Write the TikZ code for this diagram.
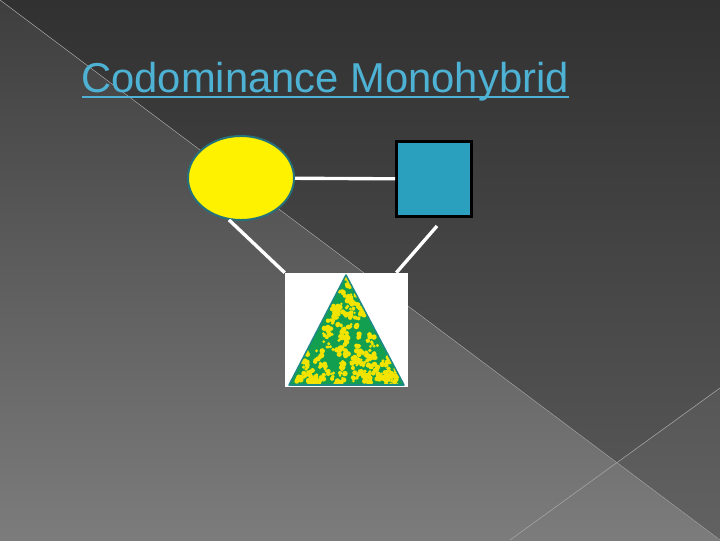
\documentclass[tikz,border=0pt]{standalone}
\usepackage{fontspec}
\setmainfont{Liberation Sans}
\usetikzlibrary{shapes.geometric,calc}

\definecolor{slidetop}{HTML}{3E3E3E}
\definecolor{slidebot}{HTML}{7C7C7C}
\definecolor{shadetop}{HTML}{313131}
\definecolor{shadebot}{HTML}{5A5A5A}
\definecolor{titleblue}{RGB}{78,178,212}
\definecolor{momline}{HTML}{24727C}
\definecolor{dadfill}{HTML}{2BA0BE}
\definecolor{leafgreen}{HTML}{12A050}
\definecolor{leafline}{HTML}{1E8A86}
\definecolor{speck}{HTML}{F2E400}

\tikzstyle{mom}=[ellipse,draw=momline,line width=1.4pt,fill=yellow,minimum width=2.65cm,minimum height=2.1cm,inner sep=0pt]
\tikzstyle{dad}=[rectangle,draw=black,line width=2.1pt,fill=dadfill,minimum size=1.875cm,inner sep=0pt]
\tikzstyle{kid}=[rectangle,fill=white,minimum width=3.075cm,minimum height=2.85cm,inner sep=0pt]
\tikzstyle{link}=[white,line width=2.4pt]
\tikzstyle{seam}=[gray!70,line width=0.4pt]
\tikzstyle{texto}=[text=titleblue,font=\fontsize{29.7}{34}\selectfont,inner sep=0pt]

\begin{document}
\begin{tikzpicture}[x=0.025cm,y=-0.025cm]
  \useasboundingbox (0,0) rectangle (720,540);

  % slide background
  \fill[top color=slidetop,bottom color=slidebot] (0,0) rectangle (720,540);
  \fill[top color=shadetop,bottom color=shadebot] (0,0) -- (720,0) -- (720,540) -- cycle;
  \fill[white,opacity=0.05] (720,388) -- (617,463) -- (720,540) -- cycle;
  \draw[seam] (0,0) -- (720,540);
  \draw[seam] (510,540) -- (720,388);

  \begin{scope}

    \node [texto,anchor=base west] (title) at (81,92) {Codominance Monohybrid};
    \draw [titleblue,line width=1.8pt] ($(title.base west)+(1,5)$) -- ($(title.base east)+(0,5)$);

    \node [mom] (mom) at (241,178) {};

    \node [dad] (dad) at (434,179) {}
    edge [link] (mom);

    \node [kid] (kid) at (346.5,330) {};
    \coordinate (dadgap) at (437,226);

    \draw [link] (mom.-106) -- (kid.north west);
    \draw [link] (dadgap) -- ($(kid.north east)+(-12,0)$);

    % speckled offspring
    \begin{scope}
      \clip (346,275) -- (404,385) -- (289,385) -- cycle;
      \fill [leafgreen] (346,275) -- (404,385) -- (289,385) -- cycle;
      \pgfmathsetseed{17}
      \foreach \i in {1,...,95}{
        \pgfmathsetmacro{\ra}{sqrt(rnd)}
        \pgfmathsetmacro{\rb}{rnd}
        \pgfmathsetmacro{\cx}{346+\ra*(\rb*115-57)}
        \pgfmathsetmacro{\cy}{275+\ra*110}
        \foreach \j in {1,...,5}{
          \pgfmathsetmacro{\dx}{7*rnd-3.5}
          \pgfmathsetmacro{\dy}{7*rnd-3.5}
          \pgfmathsetmacro{\rr}{1.3+1.5*rnd}
          \fill [speck] ({\cx+\dx},{\cy+\dy}) circle (\rr);
        }
      }
    \end{scope}
    \draw [leafline,line width=1.1pt,line join=round] (346,275) -- (404,385) -- (289,385) -- cycle;

  \end{scope}

\end{tikzpicture}
\end{document}
